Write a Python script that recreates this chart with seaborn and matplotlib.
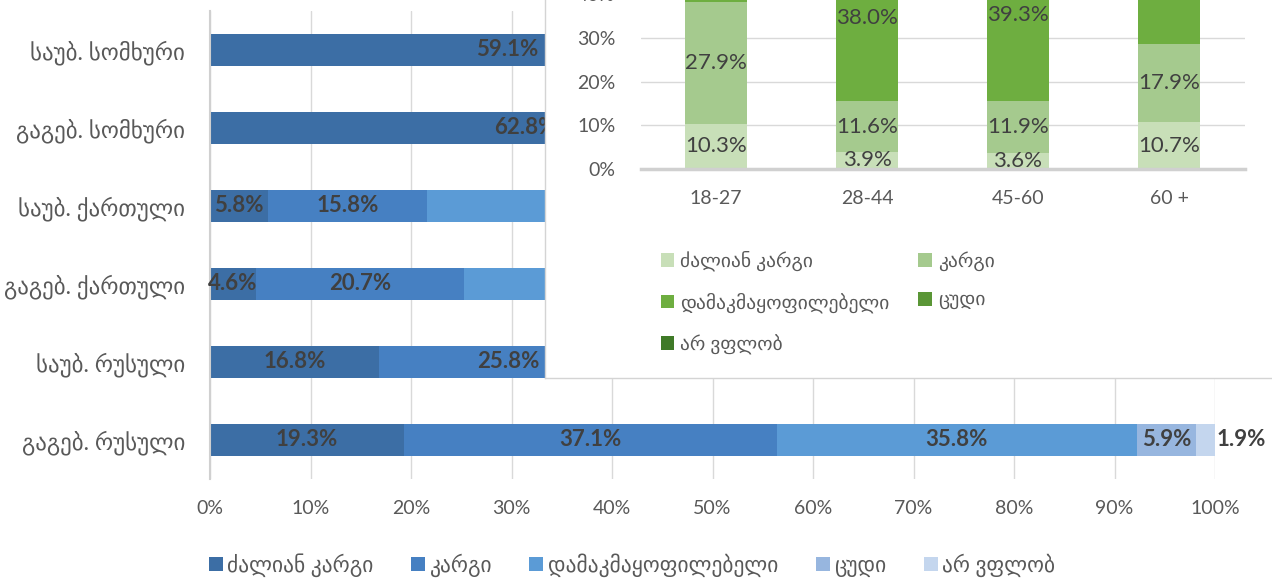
import numpy as np
import pandas as pd
import matplotlib
matplotlib.use("Agg")
import matplotlib.pyplot as plt
import seaborn as sns
from matplotlib.patches import Patch

# main chart: language skill level by language / skill
groups = ["საუბ. სომხური", "გაგებ. სომხური", "საუბ. ქართული",
          "გაგებ. ქართული", "საუბ. რუსული", "გაგებ. რუსული"]
levels = ["ძალიან კარგი", "კარგი", "დამაკმაყოფილებელი", "ცუდი", "არ ვფლობ"]
very_good = [59.1, 62.8, 5.8, 4.6, 16.8, 19.3]
good = [24.0, 22.6, 15.8, 20.7, 25.8, 37.1]
satisfactory = [10.5, 9.8, 38.5, 40.1, 38.4, 35.8]
bad = [4.5, 3.1, 27.3, 24.2, 14.6, 5.9]
no_skill = [1.9, 1.7, 12.6, 10.4, 4.4, 1.9]

# inset chart: by age group
ages = ["18-27", "28-44", "45-60", "60 +"]
age_very_good = [10.3, 3.9, 3.6, 10.7]
age_good = [27.9, 11.6, 11.9, 17.9]
age_satisfactory = [40.0, 38.0, 39.3, 35.0]
age_bad = [15.4, 32.5, 30.2, 24.6]
age_no_skill = [6.4, 14.0, 15.0, 11.8]

blues = ["#3c6ea5", "#4680c2", "#5b9bd6", "#97b6df", "#c4d6ee"]
greens = ["#c8dfb8", "#a5ca8e", "#6eae40", "#5a9636", "#3f7a28"]

TXT = "#404040"
TICK = "#595959"
GRID = "#d9d9d9"

sns.set_theme(style="white")
plt.rcParams["font.family"] = ["Lato", "DejaVu Sans"]

W, H = 1272, 580
fig = plt.figure(figsize=(W / 100, H / 100), dpi=100)

# the inset box covers the upper right part of the main chart
BOX_LEFT, BOX_BOTTOM = 545, 378   # pixels from top-left


def stacked(ax, cats, series, colors, horizontal, width):
    df = pd.DataFrame(dict(zip(levels, series)), index=cats)
    cum = df.cumsum(axis=1)
    # draw cumulative totals from the largest down, so each segment shows
    for lvl, col in reversed(list(zip(levels, colors))):
        d = pd.DataFrame({"cat": cats, "v": cum[lvl].values})
        if horizontal:
            sns.barplot(data=d, x="v", y="cat", order=cats, orient="h", color=col,
                        saturation=1, width=width, errorbar=None, ax=ax,
                        linewidth=0, edgecolor="none")
        else:
            sns.barplot(data=d, x="cat", y="v", order=cats, color=col,
                        saturation=1, width=width, errorbar=None, ax=ax,
                        linewidth=0, edgecolor="none")
    return df, cum


# ---- main horizontal chart
ax = fig.add_axes([210 / W, 1 - 479 / H, 1005 / W, 468 / H])
df, cum = stacked(ax, groups, [very_good, good, satisfactory, bad, no_skill],
                  blues, True, 0.41)
box_left_pct = (BOX_LEFT - 210) / 1005 * 100
for lvl in levels:
    for i, g in enumerate(groups):
        v = df.loc[g, lvl]
        c = cum.loc[g, lvl] - v / 2
        # labels fully under the inset box are not visible
        if i < len(groups) - 1 and c - 3 > box_left_pct:
            continue
        if v < 3:
            ax.text(cum.loc[g, lvl] + 0.2, i, f"{v:.1f}%", ha="left", va="center",
                    fontsize=16, fontweight="bold", color=TXT)
        else:
            ax.text(c, i, f"{v:.1f}%", ha="center", va="center",
                    fontsize=16, fontweight="bold", color=TXT)
ax.set_xlim(0, 100)
ax.set_ylim(5.5, -0.5)
ax.set_xticks(np.arange(0, 101, 10))
ax.set_xticklabels([f"{t}%" for t in range(0, 101, 10)])
ax.set_xlabel("")
ax.set_ylabel("")
ax.xaxis.grid(True, color=GRID, lw=1)
ax.set_axisbelow(True)
ax.tick_params(axis="both", length=0, labelsize=14, colors=TICK)
ax.tick_params(axis="x", pad=15)
ax.tick_params(axis="y", pad=18, labelsize=16.5)
for s in ["top", "right", "bottom"]:
    ax.spines[s].set_visible(False)
ax.spines["left"].set_color("#d0d0d0")
ax.spines["left"].set_linewidth(1.5)

handles = [Patch(facecolor=c, edgecolor="none", label=l) for c, l in zip(blues, levels)]
fig.legend(handles=handles, loc="center", bbox_to_anchor=(632 / W, 1 - 565 / H),
           ncol=5, frameon=False, fontsize=15.5, handlelength=0.65, handleheight=0.65,
           handletextpad=0.2, columnspacing=1.75, labelcolor=TICK)

# ---- white box that holds the inset chart
box = fig.add_axes([BOX_LEFT / W, 1 - BOX_BOTTOM / H, 1 - BOX_LEFT / W, BOX_BOTTOM / H],
                   zorder=2)
box.set_facecolor("white")
box.set_xticks([])
box.set_yticks([])
for s in ["top", "right"]:
    box.spines[s].set_visible(False)
for s in ["left", "bottom"]:
    box.spines[s].set_color("#d4d4d4")
    box.spines[s].set_linewidth(1)

# ---- inset vertical chart by age (its top runs past the figure edge)
ax2 = fig.add_axes([640.5 / W, 411 / H, 604 / W, 183.5 / H], zorder=3)
ax2.set_facecolor("none")
df2, cum2 = stacked(ax2, ages, [age_very_good, age_good, age_satisfactory, age_bad, age_no_skill],
                    greens, False, 0.41)
YTOP = 42
for lvl in levels:
    for i, a in enumerate(ages):
        v = df2.loc[a, lvl]
        c = cum2.loc[a, lvl] - v / 2
        if c > YTOP:
            continue
        ax2.text(i, c, f"{v:.1f}%", ha="center", va="center", fontsize=16, color=TXT)
ax2.set_xlim(-0.5, 3.5)
ax2.set_ylim(0, YTOP)
ax2.set_yticks(np.arange(0, 41, 10))
ax2.set_yticklabels([f"{t}%" for t in range(0, 41, 10)])
ax2.set_xlabel("")
ax2.set_ylabel("")
ax2.yaxis.grid(True, color=GRID, lw=1)
ax2.set_axisbelow(True)
ax2.tick_params(axis="both", length=0, labelsize=14, colors=TICK)
ax2.tick_params(axis="x", pad=15)
ax2.tick_params(axis="y", pad=18)
for s in ["top", "right", "left"]:
    ax2.spines[s].set_visible(False)
ax2.spines["bottom"].set_color("#d0d0d0")
ax2.spines["bottom"].set_linewidth(2.5)

gh = [Patch(facecolor=c, edgecolor="none", label=l) for c, l in zip(greens, levels)]
order = [0, 2, 4, 1, 3]  # row-wise order in two columns
leg2 = fig.legend(handles=[gh[i] for i in order], loc="upper left",
                  bbox_to_anchor=(643 / W, 1 - 233 / H), ncol=2, frameon=False,
                  fontsize=14, handlelength=0.7, handleheight=0.7, handletextpad=0.3,
                  columnspacing=1.5, labelspacing=1.1, labelcolor=TICK)
leg2.set_zorder(5)

fig.savefig("out.png", dpi=100)
